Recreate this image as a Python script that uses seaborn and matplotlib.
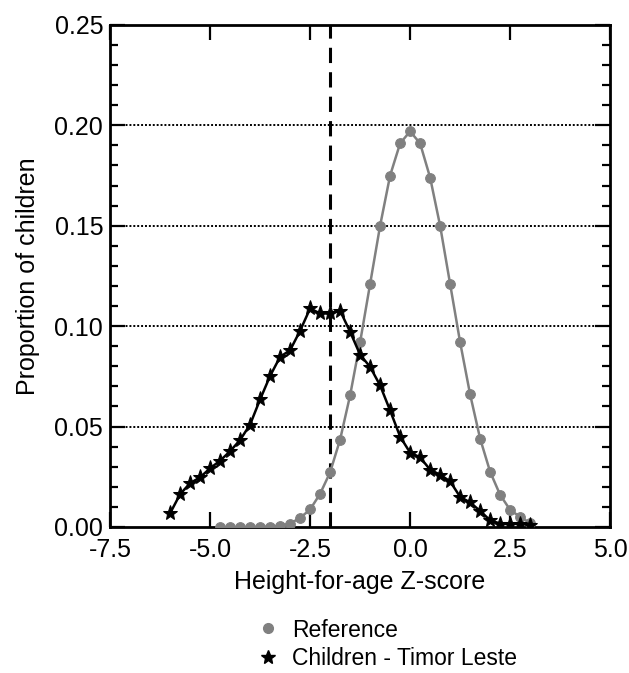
import numpy as np
import pandas as pd
import matplotlib
matplotlib.use("Agg")
import matplotlib.pyplot as plt
from matplotlib.lines import Line2D
from matplotlib.ticker import MultipleLocator
import seaborn as sns

# Height-for-age Z-score bins
z_reference = [-4.75, -4.5, -4.25, -4.0, -3.75, -3.5, -3.25, -3.0,
               -2.75, -2.5, -2.25, -2.0, -1.75, -1.5, -1.25, -1.0,
               -0.75, -0.5, -0.25, 0.0, 0.25, 0.5, 0.75, 1.0,
               1.25, 1.5, 1.75, 2.0, 2.25, 2.5, 2.75, 3.0]
p_reference = [0.0, 0.0, 0.0, 0.0, 0.0001, 0.0002, 0.0006, 0.0017,
               0.0045, 0.0087, 0.0165, 0.0272, 0.0435, 0.0655, 0.092, 0.121,
               0.150, 0.175, 0.191, 0.197, 0.191, 0.174, 0.150, 0.121,
               0.092, 0.066, 0.044, 0.0275, 0.016, 0.0085, 0.005, 0.002]

z_timor = [-6.0, -5.75, -5.5, -5.25, -5.0, -4.75, -4.5, -4.25, -4.0,
           -3.75, -3.5, -3.25, -3.0, -2.75, -2.5, -2.25, -2.0, -1.75,
           -1.5, -1.25, -1.0, -0.75, -0.5, -0.25, 0.0, 0.25, 0.5, 0.75,
           1.0, 1.25, 1.5, 1.75, 2.0, 2.25, 2.5, 2.75, 3.0]
p_timor = [0.0068, 0.0163, 0.0218, 0.0247, 0.0292, 0.033, 0.0377, 0.0433, 0.051,
           0.0635, 0.0752, 0.0847, 0.088, 0.0977, 0.1088, 0.1063, 0.1063, 0.1077,
           0.0972, 0.0858, 0.0797, 0.0705, 0.058, 0.045, 0.037, 0.0347, 0.0285, 0.026,
           0.0227, 0.015, 0.0122, 0.008, 0.0033, 0.0017, 0.0013, 0.0017, 0.001]

x_ticks = [-7.5, -5.0, -2.5, 0.0, 2.5, 5.0]
y_ticks = [0.00, 0.05, 0.10, 0.15, 0.20, 0.25]
cutoff = -2.0

ref_df = pd.DataFrame({"z": z_reference, "p": p_reference})
tl_df = pd.DataFrame({"z": z_timor, "p": p_timor})

sns.set_theme(style="ticks")
plt.rcParams["font.family"] = ["Liberation Sans", "DejaVu Sans"]
plt.rcParams["axes.unicode_minus"] = False
plt.rcParams["text.color"] = "black"
plt.rcParams["axes.labelcolor"] = "black"

FS = 18
LEG_FS = 16.5

fig = plt.figure(figsize=(6.29, 6.73), dpi=100)
ax = fig.add_axes([0.175, 0.217, 0.795, 0.746])

gray = "#808080"

# dotted horizontal guides at the major y ticks
for yv in y_ticks[1:-1]:
    ax.axhline(yv, color="black", lw=1.4, ls=(0, (1, 1)), zorder=1)

ax.axvline(cutoff, color="black", lw=2.2, ls=(0, (5, 3)), zorder=2)

sns.lineplot(data=ref_df, x="z", y="p", ax=ax, color=gray, lw=1.8,
             marker="o", markersize=7, markeredgecolor=gray, zorder=3)
sns.lineplot(data=tl_df, x="z", y="p", ax=ax, color="black", lw=1.8,
             marker="*", markersize=11, markeredgecolor="black", zorder=4)

ax.set_xlim(-7.5, 5.0)
ax.set_ylim(0, 0.25)
ax.set_xticks(x_ticks)
ax.set_xticklabels([f"{v:.1f}" for v in x_ticks])
ax.set_yticks(y_ticks)
ax.set_yticklabels([f"{v:.2f}" for v in y_ticks])
ax.yaxis.set_minor_locator(MultipleLocator(0.01))

ax.tick_params(axis="both", which="major", direction="in", length=11, width=1.6,
               labelsize=FS, top=True, right=True, colors="black")
ax.tick_params(axis="x", which="major", pad=8)
ax.tick_params(axis="y", which="major", pad=5)
ax.tick_params(axis="y", which="minor", direction="in", length=6, width=1.6,
               left=True, right=True, colors="black")
ax.tick_params(axis="x", which="minor", bottom=False, top=False)

for s in ax.spines.values():
    s.set_linewidth(2.0)
    s.set_color("black")
    s.set_visible(True)

ax.set_xlabel("Height-for-age Z-score", fontsize=FS, labelpad=6)
ax.set_ylabel("Proportion of children", fontsize=FS, labelpad=10)

handles = [
    Line2D([], [], ls="none", marker="o", markersize=7, color=gray),
    Line2D([], [], ls="none", marker="*", markersize=10, color="black"),
]
fig.legend(handles, ["Reference", "Children - Timor Leste"],
           loc="upper left", bbox_to_anchor=(0.39, 0.098), frameon=False,
           fontsize=LEG_FS, handlelength=1.0, handletextpad=0.55,
           labelspacing=0.25, borderpad=0)

fig.savefig("out.png", dpi=100)
